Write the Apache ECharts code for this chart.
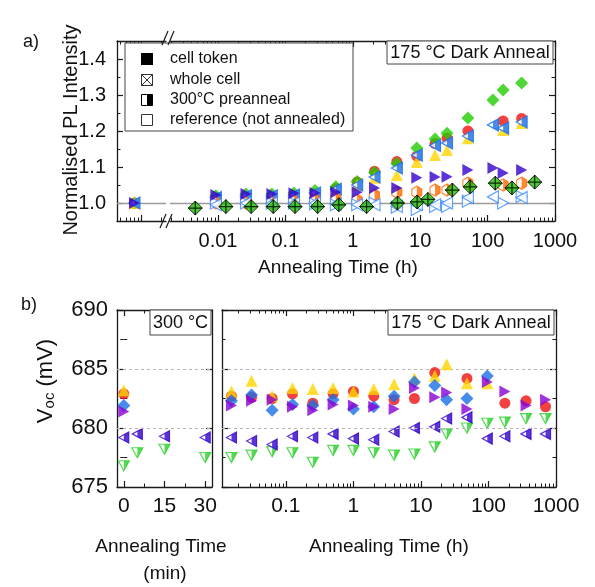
<!DOCTYPE html>
<html>
<head>
<meta charset="utf-8">
<script src="https://cdn.jsdelivr.net/npm/echarts@6.0.0/dist/echarts.min.js"></script>
<style>
html,body{margin:0;padding:0;background:#ffffff;}
#chart{width:595px;height:587px;}
</style>
</head>
<body>
<div id="chart"></div>
<script>
// ===== Panel a) normalised PL intensity (time in hours, 0 = before annealing) =====
const plTime        = [0, 0.0093, 0.026, 0.063, 0.134, 0.275, 0.56, 1.16, 2.1, 4.5, 8.9, 16.6, 25, 51, 120, 170, 320];
const plGreenToken  = [1.0, 1.02, 1.025, 1.025, 1.028, 1.035, 1.045, 1.06, 1.085, 1.11, 1.153, 1.178, 1.194, 1.236, 1.286, 1.314, 1.333];
const plRedToken    = [1.0, 1.01, 1.015, 1.015, 1.018, 1.025, 1.04, 1.058, 1.088, 1.115, 1.13, 1.165, 1.18, 1.2, null, 1.228, 1.235];
const plYellowToken = [1.0, 1.012, 1.015, 1.015, 1.018, 1.022, 1.03, 1.05, 1.07, 1.078, 1.114, 1.133, 1.147, 1.18, null, 1.203, 1.222];
const plBluePre     = [1.0, 1.015, 1.02, 1.02, 1.022, 1.028, 1.038, 1.05, 1.072, 1.097, 1.133, 1.16, 1.167, 1.186, 1.217, 1.208, 1.225];
const plIndigoToken = [1.0, 1.022, 1.025, 1.025, 1.027, 1.028, 1.03, 1.03, 1.042, 1.042, 1.07, 1.072, 1.073, 1.092, 1.097, 1.083, 1.092];
const plOrangePre   = [null, 1.0, 1.0, 1.0, 1.005, 1.008, 1.012, 1.008, 1.022, 1.03, 1.03, 1.036, 1.036, 1.055, null, 1.05, 1.055];
const plRefRight    = [null, 1.0, 1.0, 1.0, 1.0, 0.998, 0.995, 0.995, 1.0, 0.988, 0.982, 0.99, 0.99, 1.005, null, 1.0, 1.018];
const plRefLeft     = [null, 0.995, 1.0, 1.0, 1.0, 1.0, 0.997, 0.995, 0.995, 0.99, 0.995, 0.995, 1.0, 1.015, 1.017, null, 1.015];
const wholeTime     = [0.0046, 0.0131, 0.031, 0.066, 0.139, 0.30, 0.62, 1.6, 4.6, 9, 13, 30, 55, 130, 230, 500];
const plWholeCell   = [0.986, 0.99, 0.99, 0.99, 0.99, 0.99, 0.995, 0.99, 1.0, 1.003, 1.01, 1.036, 1.045, 1.055, 1.042, 1.058];
const plYTicks      = [1.0, 1.1, 1.2, 1.3, 1.4];
const plXTicks      = [0.01, 0.1, 1, 10, 100, 1000];

// ===== Panel b) Voc, 300 °C (minutes) =====
const vocMinTime   = [0, 5, 15, 30];
const vocMinRed    = [682.9, null, null, null];
const vocMinYellow = [683.2, null, null, null];
const vocMinBlue   = [681.9, null, null, null];
const vocMinPurple = [681.4, null, null, null];
const vocMinIndigo = [679.2, 679.5, 679.3, 679.2];
const vocMinGreen  = [676.8, 677.9, 678.2, 677.5];
const vocMinTicks  = [0, 15, 30];

// ===== Panel b) Voc, 175 °C dark anneal (hours) =====
const vocHrTime   = [0.0156, 0.031, 0.0625, 0.125, 0.25, 0.5, 1, 2, 4, 8, 16, 24, 48, 96, 175, 360, 700];
const vocHrYellow = [683.1, 684.0, 682.7, 683.4, 683.3, 683.4, 683.1, 683.3, 683.7, 684.2, 684.4, 685.4, 683.8, 683.8, null, null, null];
const vocHrRed    = [682.7, 682.6, 682.5, 682.9, 682.1, 682.9, 683.1, 682.7, 682.4, 682.5, 684.7, null, 684.2, null, 682.1, 682.3, 681.8];
const vocHrBlue   = [682.3, 682.8, 681.5, 682.0, 681.9, 682.4, 681.6, 681.8, 682.7, 683.9, 683.6, 682.4, 682.5, 684.4, null, null, null];
const vocHrPurple = [681.9, 682.3, 682.4, 681.8, 681.5, 682.0, 681.9, 681.8, 681.6, 683.4, 682.6, 683.0, 681.6, 683.9, 683.1, 681.9, 682.4];
const vocHrIndigo = [679.2, 678.9, 678.6, 679.3, 679.2, 679.5, 679.1, 679.0, 679.7, 680.0, 680.1, 680.8, 680.9, 679.1, 679.3, 679.5, 679.5];
const vocHrGreen  = [677.5, 677.7, 678.0, 677.9, 677.1, 678.1, 678.1, 677.9, 677.7, 677.8, 678.4, 679.5, 680.0, 680.4, 680.5, 680.8, 680.8];
const vocYTicks   = [675, 680, 685, 690];
const vocXTicks   = [0.1, 1, 10, 100, 1000];
const vocGuides   = [680, 685];

// axis position used for t = 0 on the short segment left of the axis break
const T0_AXIS = 8e-5;

const FONT = '"Liberation Sans", Arial, sans-serif';
const AX = '#1a1a1a';
const C = {green:'#22cc00', red:'#ee1111', yellow:'#ffd400', blue:'#1a6fe6', indigo:'#3300cc',
           orange:'#ff6a00', lblue:'#3d8bff', purple:'#8a00d4', green2:'#2bd12b', wgreen:'#1fbf00'};

const S = {
  rTri:  'path://M0,0L10,5L0,10Z',
  lTri:  'path://M0,5L10,0L10,10Z',
  lTriH: 'path://M0,5L0,5M5,2.5L10,0L10,10L5,7.5Z',
  dTri:  'path://M0,0L10,0L5,9Z',
  dTriH: 'path://M0,0L0,0M5,0L10,0L5,9Z',
  hex:   'path://M5,0L10,3L10,9L5,12L0,9L0,3Z',
  hexH:  'path://M0,3L0,3M5,0L10,3L10,9L5,12Z',
  plus:  'path://M4.55,0H5.45V10H4.55Z M0,4.55H10V5.45H0Z'
};

function fmt(v){ return String(+(+v).toPrecision(3)); }
function logMajors(lo, hi){ const r=[]; for(let d=-6; d<=4; d++){ const v=+Math.pow(10,d).toPrecision(3); if(v>=lo && v<=hi) r.push(v);} return r; }
function logMinors(lo, hi){ const r=[]; for(let d=-6; d<=4; d++){ for(let k=2;k<=9;k++){ const v=+(k*Math.pow(10,d)).toPrecision(3); if(v>lo && v<hi) r.push(v);} } return r; }
function linTicks(lo, hi, step){ const r=[]; for(let v=lo; v<=hi+1e-9; v+=step){ r.push(+v.toPrecision(6)); } return r; }

function xSet(gridIndex, type, min, max, majors, minors, labels, lab){
  const base = {gridIndex, type, min, max, logBase:10, splitLine:{show:false}, axisPointer:{show:false}, silent:true};
  const line = {show:true, onZero:false, lineStyle:{color:AX, width:1.3}};
  const arr = [
    Object.assign({}, base, {position:'bottom', axisLine:line,
      axisTick:{show:majors.length>0, inside:true, length:6, customValues:majors, lineStyle:{color:AX,width:1.2}},
      axisLabel: labels ? {show:true, customValues:labels, margin:lab.margin, color:'#111', fontSize:lab.size, fontFamily:FONT, formatter:fmt} : {show:false}}),
    Object.assign({}, base, {position:'top', axisLine:line,
      axisTick:{show:majors.length>0, inside:true, length:6, customValues:majors, lineStyle:{color:AX,width:1.2}}, axisLabel:{show:false}})
  ];
  if (minors.length){
    arr.push(Object.assign({}, base, {position:'bottom', axisLine:{show:false},
      axisTick:{show:true, inside:true, length:3.5, customValues:minors, lineStyle:{color:AX,width:1}}, axisLabel:{show:false}}));
    arr.push(Object.assign({}, base, {position:'top', axisLine:{show:false},
      axisTick:{show:true, inside:true, length:3.5, customValues:minors, lineStyle:{color:AX,width:1}}, axisLabel:{show:false}}));
  }
  return arr;
}
function ySet(gridIndex, min, max, majors, minors, labels, lab, showLeft, showRight){
  const base = {gridIndex, type:'value', min, max, splitLine:{show:false}, axisPointer:{show:false}, silent:true};
  const arr = [];
  const sides = [];
  if (showLeft) sides.push('left');
  if (showRight) sides.push('right');
  sides.forEach(side=>{
    arr.push(Object.assign({}, base, {position:side, axisLine:{show:true, onZero:false, lineStyle:{color:AX,width:1.3}},
      axisTick:{show:true, inside:true, length:6, customValues:majors, lineStyle:{color:AX,width:1.2}},
      axisLabel:(labels && side==='left') ? {show:true, customValues:labels, margin:lab.margin, color:'#111', fontSize:lab.size, fontFamily:FONT,
        formatter:v=>(+v).toFixed(lab.dec)} : {show:false}}));
    arr.push(Object.assign({}, base, {position:side, axisLine:{show:false},
      axisTick:{show:true, inside:true, length:3.5, customValues:minors, lineStyle:{color:AX,width:1}}, axisLabel:{show:false}}));
  });
  return arr;
}

const grids = [
  {left:117, top:41, width:49, height:180},   // a) t = 0 segment
  {left:170, top:41, width:385, height:180},  // a) log time
  {left:117, top:310, width:95, height:177},  // b) minutes
  {left:222, top:310, width:334, height:177}  // b) hours
];

const xMinA0 = 4.4e-5, xMaxA0 = 2.35e-4, xMinA1 = 0.00194, xMaxA1 = 1000, xMinB1 = 0.0113, xMaxB1 = 1000;
const xAxes = [], yAxes = [];
function addX(list){ const s = xAxes.length; list.forEach(a=>xAxes.push(a)); return s; }
function addY(list){ const s = yAxes.length; list.forEach(a=>yAxes.push(a)); return s; }

const labA = {size:20, margin:10}, labB = {size:21, margin:9};
const xa0 = addX(xSet(0,'log',xMinA0,xMaxA0, logMajors(xMinA0,xMaxA0), logMinors(xMinA0,xMaxA0), null, labA));
const xa1 = addX(xSet(1,'log',xMinA1,xMaxA1, logMajors(xMinA1,xMaxA1), logMinors(xMinA1,xMaxA1), plXTicks, labA));
const xb0 = addX(xSet(2,'value',-2.5,32.5, vocMinTicks, [7.5,22.5], vocMinTicks, labB));
const xb1 = addX(xSet(3,'log',xMinB1,xMaxB1, logMajors(xMinB1,xMaxB1), logMinors(xMinB1,xMaxB1), vocXTicks, labB));

const plMajorsY = linTicks(1.0,1.4,0.1);
const plMinorsY = linTicks(0.95,1.45,0.1);
const vMajorsY = linTicks(675,690,5);
const vMinorsY = linTicks(677.5,690,5);
const ya0 = addY(ySet(0,0.95,1.45,plMajorsY,plMinorsY,plYTicks,{size:20, margin:11, dec:1},true,false));
const ya1 = addY(ySet(1,0.95,1.45,plMajorsY,plMinorsY,null,null,false,true));
const yb0 = addY(ySet(2,675,690,vMajorsY,vMinorsY,vocYTicks,{size:22, margin:9, dec:0},true,true));
const yb1 = addY(ySet(3,675,690,vMajorsY,vMinorsY,null,null,true,true));

function pairs(xs, ys, filter, mapX){
  const out=[]; xs.forEach((x,i)=>{ if(ys[i]!=null && (!filter || filter(x))) out.push([mapX?mapX(x):x, ys[i]]); }); return out;
}
function sc(data, xi, yi, symbol, size, style, z, extra){
  return Object.assign({type:'scatter', data, xAxisIndex:xi, yAxisIndex:yi, symbol, symbolSize:size,
    itemStyle:style, z:z, silent:true, animation:false, emphasis:{disabled:true}}, extra||{});
}
const fill = c => ({color:c, borderWidth:0});
const hollow = c => ({color:'#ffffff', borderColor:c, borderWidth:1.2});

const series = [];
// ---- panel a ----
const segs = [
  {xi:xa0, yi:ya0, f:t=>t===0, m:()=>T0_AXIS},
  {xi:xa1, yi:ya1, f:t=>t>0, m:null}
];
segs.forEach((g,gi)=>{
  const P = v => pairs(plTime, v, g.f, g.m);
  series.push(sc(P(plRedToken), g.xi, g.yi, 'circle', 11, fill(C.red), 2, {
    markLine:{silent:true, symbol:'none', label:{show:false}, animation:false,
      lineStyle:{color:'#9a9a9a', width:1.3, type:'solid'}, data:[{yAxis:1.0}]}}));
  series.push(sc(P(plGreenToken), g.xi, g.yi, 'diamond', 13, fill(C.green), 3));
  series.push(sc(P(plYellowToken), g.xi, g.yi, 'triangle', 12, fill(C.yellow), 4));
  series.push(sc(P(plBluePre), g.xi, g.yi, S.lTri, [11,12], hollow(C.blue), 5));
  series.push(sc(P(plBluePre), g.xi, g.yi, S.lTriH, [11,12], fill(C.blue), 5));
  series.push(sc(P(plOrangePre), g.xi, g.yi, S.hex, [10,12], hollow(C.orange), 6));
  series.push(sc(P(plOrangePre), g.xi, g.yi, S.hexH, [10,12], fill(C.orange), 6));
  series.push(sc(P(plRefRight), g.xi, g.yi, S.rTri, [11,12], hollow(C.lblue), 7));
  series.push(sc(P(plRefLeft), g.xi, g.yi, S.lTri, [11,12], hollow(C.lblue), 7));
  series.push(sc(P(plIndigoToken), g.xi, g.yi, S.rTri, [11,12], fill(C.indigo), 8));
  if (gi===1){
    const W = pairs(wholeTime, plWholeCell);
    series.push(sc(W, g.xi, g.yi, 'diamond', 14, {color:C.wgreen, borderColor:'#000', borderWidth:1}, 9));
    series.push(sc(W, g.xi, g.yi, S.plus, 14, fill('#000'), 10));
  }
});
// ---- panel b ----
const guide = {silent:true, symbol:'none', label:{show:false}, animation:false,
  lineStyle:{color:'#b5b5b5', width:1, type:[3,3]}, data:vocGuides.map(v=>({yAxis:v}))};
[
  {xi:xb0, yi:yb0, t:vocMinTime, r:vocMinRed, y:vocMinYellow, b:vocMinBlue, p:vocMinPurple, i:vocMinIndigo, g:vocMinGreen},
  {xi:xb1, yi:yb1, t:vocHrTime, r:vocHrRed, y:vocHrYellow, b:vocHrBlue, p:vocHrPurple, i:vocHrIndigo, g:vocHrGreen}
].forEach(d=>{
  series.push(sc(pairs(d.t,d.g), d.xi, d.yi, S.dTri, [11,10], hollow(C.green2), 3, {markLine:guide}));
  series.push(sc(pairs(d.t,d.g), d.xi, d.yi, S.dTriH, [11,10], fill(C.green2), 3));
  series.push(sc(pairs(d.t,d.i), d.xi, d.yi, S.lTri, [10,11], hollow(C.indigo), 4));
  series.push(sc(pairs(d.t,d.i), d.xi, d.yi, S.lTriH, [10,11], fill(C.indigo), 4));
  series.push(sc(pairs(d.t,d.r), d.xi, d.yi, 'circle', 11, fill(C.red), 5));
  series.push(sc(pairs(d.t,d.y), d.xi, d.yi, 'triangle', 12, fill(C.yellow), 6));
  series.push(sc(pairs(d.t,d.b), d.xi, d.yi, 'diamond', 13, fill(C.blue), 7));
  series.push(sc(pairs(d.t,d.p), d.xi, d.yi, S.rTri, [11,12], fill(C.purple), 8));
});

// ---- decorations: labels, boxes, legend, axis breaks ----
const txt = (x,y,text,size,extra) => Object.assign({type:'text', x, y, silent:true, z:50,
  style:Object.assign({text, fill:'#111', font:size+'px '+FONT, textAlign:'center', textVerticalAlign:'middle'}, (extra&&extra.style)||{})},
  extra?{rotation:extra.rotation||0}:{});
const box = (x,y,w,h) => ({type:'rect', shape:{x,y,width:w,height:h}, silent:true, z:40,
  style:{fill:'#fff', stroke:'#444', lineWidth:1}});
const ln = (x1,y1,x2,y2,w,c) => ({type:'line', shape:{x1,y1,x2,y2}, silent:true, z:60, style:{stroke:c||AX, lineWidth:w||1.2}});

const graphic = [
  txt(31,42,'a)',18), txt(29,305,'b)',18),
  txt(71,130,'Normalised PL Intensity',20,{rotation:Math.PI/2}),
  txt(338,268,'Annealing Time (h)',19),
  txt(161,547,'Annealing Time',19), txt(165,574,'(min)',19),
  txt(389,547,'Annealing Time (h)',19),
  {type:'text', x:44, y:381, rotation:Math.PI/2, silent:true, z:50,
   style:{text:'{a|V}{b|oc}{a| (mV)}', textAlign:'center', textVerticalAlign:'middle',
     rich:{a:{fontSize:22, fontFamily:FONT, fill:'#111', lineHeight:26, verticalAlign:'bottom'},
           b:{fontSize:15, fontFamily:FONT, fill:'#111', lineHeight:18, verticalAlign:'bottom'}}}},
  // legend
  box(125,43,228,88),
  {type:'rect', shape:{x:141,y:53,width:12,height:12}, silent:true, z:45, style:{fill:'#000'}},
  {type:'rect', shape:{x:141.5,y:74.5,width:11,height:11}, silent:true, z:45, style:{fill:'#fff', stroke:'#333', lineWidth:1}},
  ln(141.5,74.5,152.5,85.5,1,'#333'), ln(152.5,74.5,141.5,85.5,1,'#333'),
  {type:'rect', shape:{x:141.5,y:94.5,width:11,height:11}, silent:true, z:45, style:{fill:'#fff', stroke:'#000', lineWidth:1}},
  {type:'rect', shape:{x:147,y:94.5,width:5.5,height:11}, silent:true, z:46, style:{fill:'#000'}},
  {type:'rect', shape:{x:141.5,y:114.5,width:11,height:11}, silent:true, z:45, style:{fill:'#fff', stroke:'#333', lineWidth:1}},
  txt(170,59,'cell token',16,{style:{textAlign:'left'}}),
  txt(170,80,'whole cell',16,{style:{textAlign:'left'}}),
  txt(170,100,'300°C preanneal',16,{style:{textAlign:'left'}}),
  txt(170,120,'reference (not annealed)',16,{style:{textAlign:'left'}}),
  // condition boxes
  box(387,41,166,23), txt(470,53,'175 °C Dark Anneal',18),
  box(388,310,166,25), txt(471,323,'175 °C Dark Anneal',18),
  box(150,310,61,25), txt(180.5,323,'300 °C',18),
  // axis-break marks
  ln(160,228,166,214), ln(166,228,172,214),
  ln(162,45,168,31), ln(168,45,174,31)
];

const chart = echarts.init(document.getElementById('chart'), null, {renderer:'canvas'});
chart.setOption({
  backgroundColor:'#ffffff',
  animation:false,
  textStyle:{fontFamily:FONT},
  grid:grids,
  xAxis:xAxes,
  yAxis:yAxes,
  series:series,
  graphic:graphic
});
</script>
</body>
</html>
